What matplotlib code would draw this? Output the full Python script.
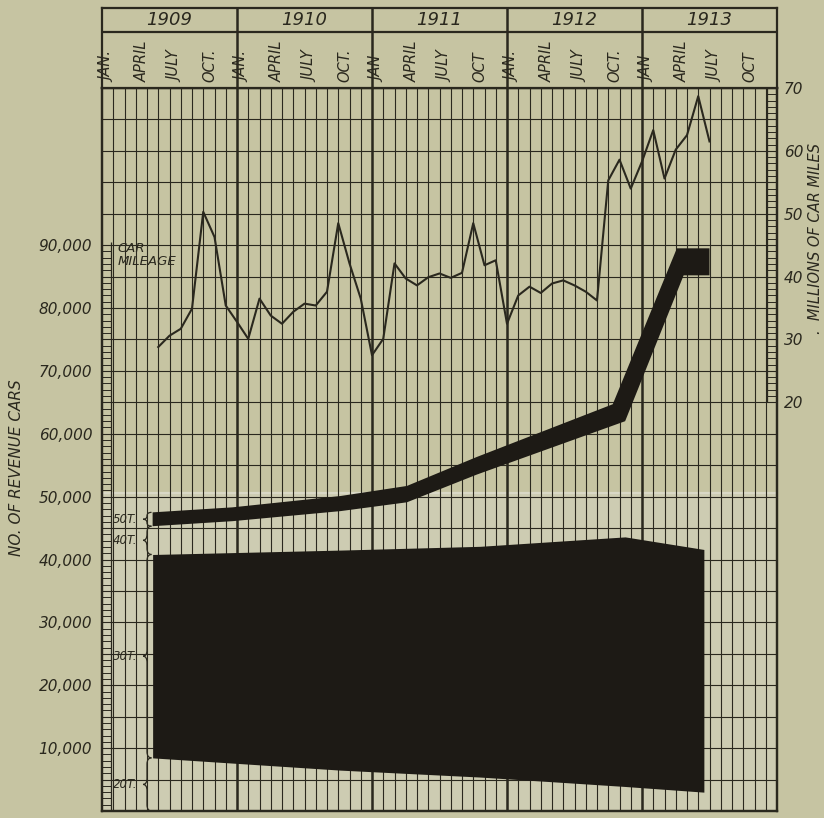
import numpy as np
import matplotlib
matplotlib.use("Agg")
import matplotlib.pyplot as plt
from matplotlib.path import Path
from matplotlib.patches import PathPatch, Rectangle

# ---- data (x in months from Jan 1909, y in thousands of cars / millions of miles)
years = ["1909", "1910", "1911", "1912", "1913"]
quarter_labels = [
    ["JAN.", "APRIL", "JULY", "OCT."],
    ["JAN.", "APRIL", "JULY", "OCT."],
    ["JAN", "APRIL", "JULY", "OCT"],
    ["JAN.", "APRIL", "JULY", "OCT."],
    ["JAN", "APRIL", "JULY", "OCT"],
]

cars_ticks = [10, 20, 30, 40, 50, 60, 70, 80, 90]
cars_labels = ["10,000", "20,000", "30,000", "40,000", "50,000",
               "60,000", "70,000", "80,000", "90,000"]
miles_ticks = [20, 30, 40, 50, 60, 70]

# car mileage, millions, monthly from June 1909
mileage_months = list(range(5, 55))
mileage = [28.8, 30.6, 31.7, 34.9, 50.3, 46.3, 35.4, 32.8, 30.1, 36.5,
           33.8, 32.5, 34.4, 35.7, 35.4, 37.6, 48.5, 42.1, 36.5, 27.5,
           30.1, 42.1, 39.7, 38.6, 39.9, 40.5, 39.8, 40.6, 48.5, 41.8,
           42.6, 32.5, 37.0, 38.4, 37.4, 38.9, 39.4, 38.6, 37.6, 36.2,
           55.3, 58.6, 54.0, 58.3, 63.3, 55.6, 60.2, 62.5, 68.7, 61.5]

# total revenue cars band (thousands)
total_top_x = [4.5, 11.6, 21.2, 27.1, 33.3, 45.4, 51.1, 54.0]
total_top = [47.5, 48.3, 50.1, 51.7, 56.3, 64.7, 89.5, 89.5]
total_bot_x = [4.5, 11.6, 21.2, 27.1, 33.3, 46.5, 51.7, 54.0]
total_bot = [45.3, 46.1, 47.7, 49.1, 53.5, 62.0, 85.2, 85.2]

# 30-ton cars block (thousands)
block_x = [4.5, 21.2, 33.6, 46.5, 53.5]
block_top = [40.8, 41.5, 42.1, 43.6, 41.6]
block_bot = [8.45, 6.5, 5.4, 3.9, 3.0]

BG = "#c6c4a2"
INK = "#2a281e"
FILL = "#1d1a15"

W, H = 824, 818
L, R = 102, 777
TOP, BOT = 88, 811

fig = plt.figure(figsize=(W / 100, H / 100), dpi=100)
fig.patch.set_facecolor(BG)

ax = fig.add_axes([L / W, (H - BOT) / H, (R - L) / W, (BOT - TOP) / H])
ax.set_facecolor(BG)
ax.set_xlim(0, 60)
ax.set_ylim(0, 115)

# lighter pasted lower section and its seam
ax.add_patch(Rectangle((0, 0), 60, 50.6, facecolor="#cdccb2", edgecolor="none", zorder=0))
ax.axhline(50.6, color="#d9d8c6", lw=1.6, zorder=0.5)

# grid
ax.vlines(np.arange(1, 60), 0, 115, color=INK, lw=0.8, zorder=1)
ax.vlines([12, 24, 36, 48], 0, 115, color=INK, lw=1.8, zorder=1)
ax.hlines(np.arange(5, 115, 5), 0, 60, color=INK, lw=0.8, zorder=1)

# ladders
ax.vlines(0.8, 0, 90.5, color=INK, lw=0.9, zorder=2)
ax.hlines(np.arange(1, 91), 0, 0.8, color=INK, lw=0.7, zorder=2)
ax.vlines(59.15, 65, 115, color=INK, lw=0.9, zorder=2)
ax.hlines(np.arange(65, 115), 59.15, 60, color=INK, lw=0.7, zorder=2)

# black areas
ax.fill_between(block_x, block_bot, block_top, color=FILL, lw=0, zorder=3)
ax.fill(total_top_x + total_bot_x[::-1], total_top + total_bot[::-1],
        color=FILL, lw=0, zorder=3)

# braces with capacity labels
def brace(y_bot, y_top, label):
    ym = (y_bot + y_top) / 2
    d = min(1.0, (y_top - y_bot) / 4)
    xe, xm, xt = 4.4, 4.0, 3.65
    verts = [(xe, y_top), (xm, y_top), (xm, y_top - d), (xm, ym + d),
             (xm, ym), (xt, ym), (xm, ym), (xm, ym - d), (xm, y_bot + d),
             (xm, y_bot), (xe, y_bot)]
    codes = [Path.MOVETO, Path.CURVE3, Path.CURVE3, Path.LINETO,
             Path.CURVE3, Path.CURVE3, Path.CURVE3, Path.CURVE3, Path.LINETO,
             Path.CURVE3, Path.CURVE3]
    ax.add_patch(PathPatch(Path(verts, codes), fill=False, edgecolor=INK, lw=0.9, zorder=4))
    ax.text(0.95, ym, label, fontsize=8.5, style="italic", color=INK,
            ha="left", va="center", zorder=4)

brace(total_bot[0], total_top[0], "50T.")
brace(block_top[0], total_bot[0], "40T.")
brace(block_bot[0], block_top[0], "30T.")
brace(0, block_bot[0], "20T.")

# left axis
ax.set_xticks([])
ax.set_yticks(cars_ticks)
ax.set_yticklabels(cars_labels, fontsize=11, style="italic", color=INK)
ax.tick_params(axis="y", length=0, pad=7)
for s in ax.spines.values():
    s.set_color(INK)
    s.set_linewidth(1.6)

# right axis: millions of car miles
ax2 = ax.twinx()
ax2.set_ylim(-45, 70)
ax2.plot(mileage_months, mileage, color=INK, lw=1.5, zorder=5)
ax2.set_yticks(miles_ticks)
ax2.set_yticklabels([str(v) for v in miles_ticks], fontsize=11, style="italic", color=INK)
ax2.tick_params(axis="y", length=0, pad=5)
for s in ax2.spines.values():
    s.set_color(INK)
    s.set_linewidth(1.6)

ax2.text(1.35, 43.4, "CAR\nMILEAGE", fontsize=9.5, style="italic", color=INK,
         ha="left", va="center", linespacing=1.0, zorder=5)

fig.text(17 / W, 1 - 468 / H, "NO. OF REVENUE CARS", rotation=90, fontsize=11,
         style="italic", color=INK, ha="center", va="center")
fig.text(815 / W, 1 - 238 / H, ".  MILLIONS OF CAR MILES", rotation=90, fontsize=10.5,
         style="italic", color=INK, ha="center", va="center")

# header with years and quarter months
hdr = fig.add_axes([L / W, (H - TOP) / H, (R - L) / W, (TOP - 8) / H])
hdr.set_facecolor(BG)
hdr.set_xlim(0, 60)
hdr.set_ylim(0, 80)
hdr.set_xticks([])
hdr.set_yticks([])
for s in hdr.spines.values():
    s.set_color(INK)
    s.set_linewidth(1.6)
hdr.hlines(56, 0, 60, color=INK, lw=1.6)
hdr.vlines([12, 24, 36, 48], 0, 80, color=INK, lw=1.8)
for i, yr in enumerate(years):
    hdr.text(12 * i + 6, 68, yr, fontsize=13, style="italic", color=INK,
             ha="center", va="center")
    for q, lab in enumerate(quarter_labels[i]):
        hdr.text(12 * i + 3 * q + 0.55, 6, lab, fontsize=10.5, style="italic",
                 color=INK, rotation=90, rotation_mode="anchor",
                 ha="left", va="center")

fig.savefig("out.png", dpi=100, facecolor=BG)
